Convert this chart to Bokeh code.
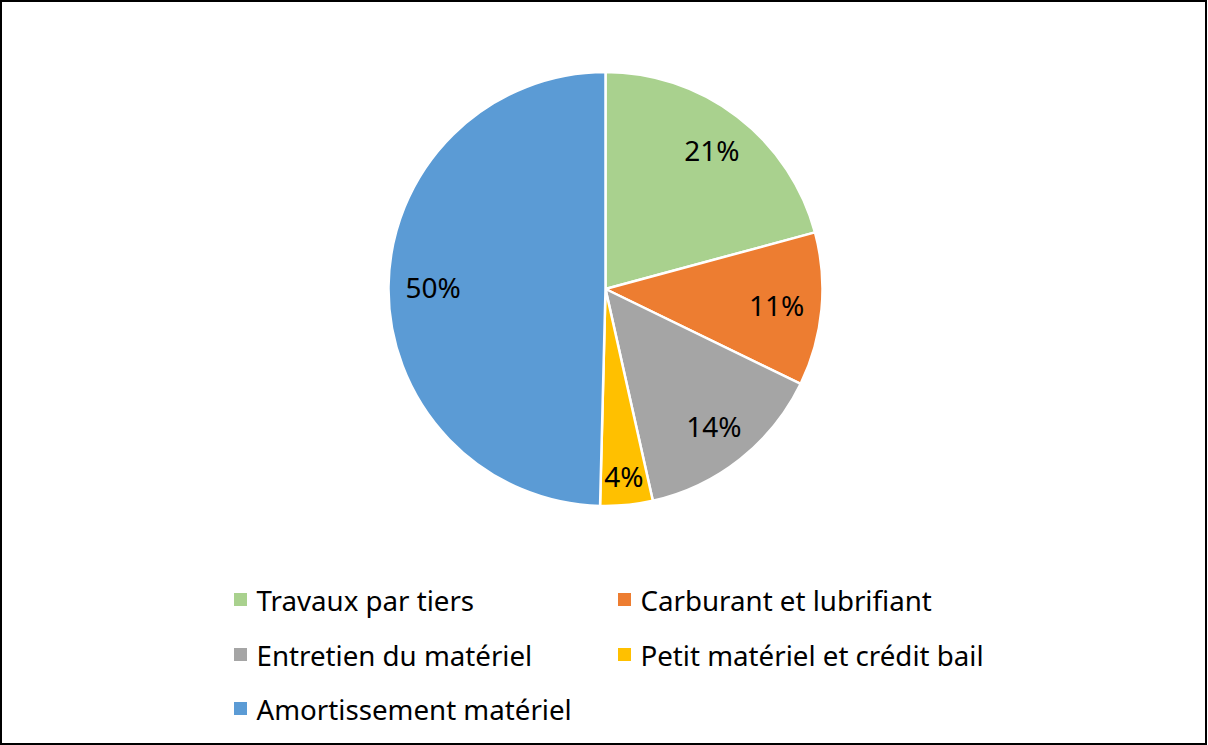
import math
from bokeh.plotting import figure
from bokeh.models import Range1d, ColumnDataSource
from bokeh.core.properties import value
from bokeh.embed import file_html
from bokeh.resources import INLINE

categories = ["Travaux par tiers", "Carburant et lubrifiant", "Entretien du matériel",
              "Petit matériel et crédit bail", "Amortissement matériel"]
shares = [20.8, 11.4, 14.3, 3.9, 49.6]
colors = ["#A9D18E", "#ED7D31", "#A5A5A5", "#FFC000", "#5B9BD5"]

W, H = 1207, 745
FONT = "Noto Sans"
CX, CY, R = 605, 456.5, 217
LABEL_FS = 28
LEGEND_FS = 27.7

p = figure(width=W, height=H, output_backend="svg", toolbar_location=None,
           x_range=Range1d(0, W), y_range=Range1d(0, H), min_border=0)
p.axis.visible = False
p.grid.visible = False
p.outline_line_color = "black"
p.outline_line_width = 3
p.background_fill_color = "white"

total = sum(shares)
starts, ends, lx, ly, labels = [], [], [], [], []
cum = 0.0
for v in shares:
    a0 = math.pi / 2 - 2 * math.pi * cum / total
    cum += v
    a1 = math.pi / 2 - 2 * math.pi * cum / total
    starts.append(a0)
    ends.append(a1)
    mid = (a0 + a1) / 2
    txt = f"{round(v / total * 100)}%"
    labels.append(txt)
    # label inside end: text box touching circle with padding
    w = 29 * (0.58 * (len(txt) - 1) + 0.85)
    h = 29 * 0.75
    cx, cy = math.cos(mid), math.sin(mid)
    a = math.copysign(w / 2, cx)
    b = math.copysign(h / 2, cy)
    rp = R - 15
    k = cx * a + cy * b
    d = -k + math.sqrt(k * k - (a * a + b * b - rp * rp))
    lx.append(CX + d * cx)
    ly.append(CY + d * cy)

src = ColumnDataSource(dict(start=starts, end=ends, color=colors, cat=categories,
                            lx=lx, ly=ly, label=labels))
p.wedge(x=CX, y=CY, radius=R, start_angle="start", end_angle="end", direction="clock",
        fill_color="color", line_color="white", line_width=2.5, source=src)
p.text(x="lx", y="ly", text="label", source=src, text_align="center",
       text_baseline="middle", text_font=value(FONT), text_font_size=f"{LABEL_FS}px",
       text_color="black")

# legend (2 columns)
col_x = [240, 624]
row_y = [146, 91, 37]
mx, my, tx = [], [], []
for i in range(len(categories)):
    r, c = divmod(i, 2)
    mx.append(col_x[c])
    my.append(row_y[r])
    tx.append(col_x[c] + 16)
lsrc = ColumnDataSource(dict(mx=mx, my=my, tx=tx, cat=categories, color=colors))
p.scatter(x="mx", y="my", marker="square", size=13, fill_color="color",
          line_color=None, source=lsrc)
p.text(x="tx", y="my", text="cat", source=lsrc, text_align="left",
       text_baseline="middle", text_font=value(FONT), text_font_size=f"{LEGEND_FS}px",
       text_color="black")

open("out.html", "w").write(file_html(p, INLINE))
